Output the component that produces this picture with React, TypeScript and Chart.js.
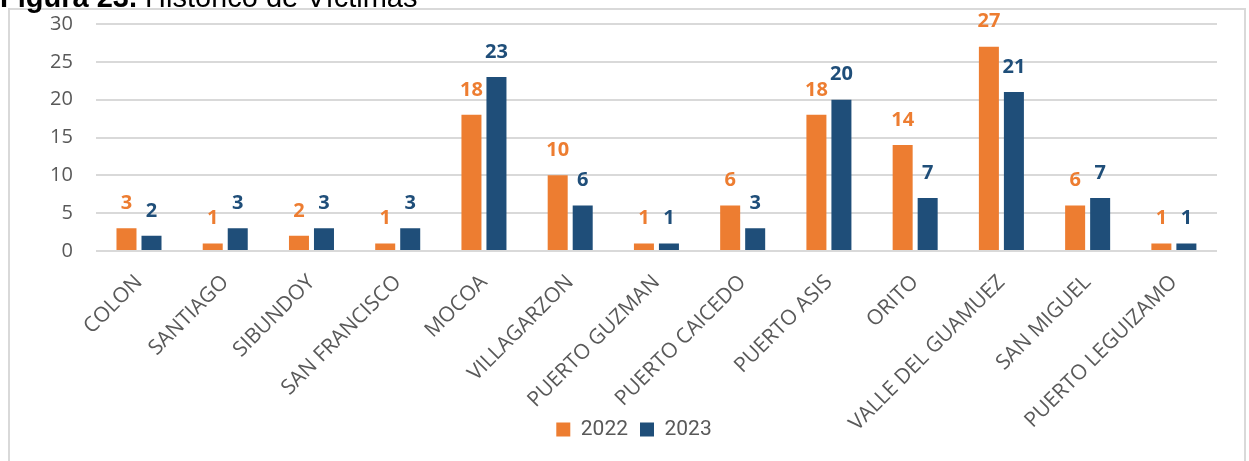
import React, { useEffect, useRef } from "react";
import { Chart, registerables } from "chart.js";

Chart.register(...registerables);

const categories = [
  "COLON",
  "SANTIAGO",
  "SIBUNDOY",
  "SAN FRANCISCO",
  "MOCOA",
  "VILLAGARZON",
  "PUERTO GUZMAN",
  "PUERTO CAICEDO",
  "PUERTO ASIS",
  "ORITO",
  "VALLE DEL GUAMUEZ",
  "SAN MIGUEL",
  "PUERTO LEGUIZAMO",
];
const values2022 = [3, 1, 2, 1, 18, 10, 1, 6, 18, 14, 27, 6, 1];
const values2023 = [2, 3, 3, 3, 23, 6, 1, 3, 20, 7, 21, 7, 1];
const seriesLabels = ["2022", "2023"];
const seriesColors = ["#ED7D31", "#1F4E79"];
const yMin = 0;
const yMax = 30;
const yStep = 5;

// canvas placement relative to wrapper content box (canvas overflows, wrapper clips)
const CANVAS_LEFT = -49;
const CANVAS_TOP = -29;
const CANVAS_W = 1287;
const CANVAS_H = 511;

const valueLabels = {
  id: "valueLabels",
  afterDatasetsDraw(chart: any) {
    const ctx = chart.ctx;
    chart.data.datasets.forEach((ds: any, i: number) => {
      const meta = chart.getDatasetMeta(i);
      meta.data.forEach((bar: any, j: number) => {
        ctx.save();
        ctx.font = "bold 20px 'Open Sans'";
        ctx.fillStyle = ds.backgroundColor;
        ctx.textAlign = "center";
        ctx.textBaseline = "middle";
        ctx.fillText(String(ds.data[j]), bar.x, bar.y - 25);
        ctx.restore();
      });
    });
  },
};

const legendShift = {
  id: "legendShift",
  afterLayout(chart: any) {
    const l = chart.legend;
    if (!l) return;
    const dx = 12;
    const dy = -29;
    l.left += dx;
    l.right += dx;
    l.top += dy;
    l.bottom += dy;
  },
};

export default function App() {
  const ref = useRef<HTMLCanvasElement | null>(null);

  useEffect(() => {
    if (!ref.current) return;
    const chart = new Chart(ref.current, {
      type: "bar",
      data: {
        labels: categories,
        datasets: [
          {
            label: seriesLabels[0],
            data: values2022,
            backgroundColor: seriesColors[0],
            categoryPercentage: 0.58,
            barPercentage: 0.8,
          },
          {
            label: seriesLabels[1],
            data: values2023,
            backgroundColor: seriesColors[1],
            categoryPercentage: 0.58,
            barPercentage: 0.8,
          },
        ],
      },
      options: {
        responsive: false,
        animation: false,
        layout: { padding: { left: 66, right: 31, top: 43, bottom: 13 } },
        scales: {
          x: {
            grid: { display: false },
            border: { display: false },
            afterFit(scale: any) {
              scale.height = 185;
            },
            ticks: {
              color: "#595959",
              font: { family: "'Open Sans'", size: 21 },
              maxRotation: 45,
              minRotation: 45,
              autoSkip: false,
              padding: 11,
              labelOffset: 0,
            },
          },
          y: {
            min: yMin,
            max: yMax,
            ticks: {
              stepSize: yStep,
              color: "#595959",
              font: { family: "'Open Sans'", size: 20 },
              padding: 23,
            },
            grid: { color: "#d9d9d9", lineWidth: 2, drawTicks: false },
            border: { display: false },
          },
        },
        plugins: {
          legend: {
            position: "bottom",
            labels: {
              boxWidth: 14,
              boxHeight: 14,
              color: "#595959",
              font: { family: "Roboto", size: 21 },
              padding: 12,
            },
          },
          tooltip: { enabled: false },
        },
      },
      plugins: [valueLabels, legendShift],
    });
    return () => chart.destroy();
  }, []);

  return (
    <>
      <div
        style={{
          position: "absolute",
          left: 8,
          top: 8,
          width: 1238,
          height: 453,
          borderTop: "2px solid #d9d9d9",
          borderLeft: "2px solid #d9d9d9",
          borderRight: "2px solid #d9d9d9",
          background: "#fff",
          overflow: "hidden",
          boxSizing: "border-box",
        }}
      >
        <canvas
          ref={ref}
          width={CANVAS_W}
          height={CANVAS_H}
          style={{ display: "block", position: "absolute", left: CANVAS_LEFT, top: CANVAS_TOP }}
        />
      </div>
      <div
        style={{
          position: "absolute",
          left: 0,
          top: -17,
          font: "29px 'Liberation Sans', Arial, sans-serif",
          lineHeight: "29px",
          whiteSpace: "nowrap",
          color: "#000",
        }}
      >
        <b>Figura 23.</b> Histórico de Víctimas
      </div>
    </>
  );
}
